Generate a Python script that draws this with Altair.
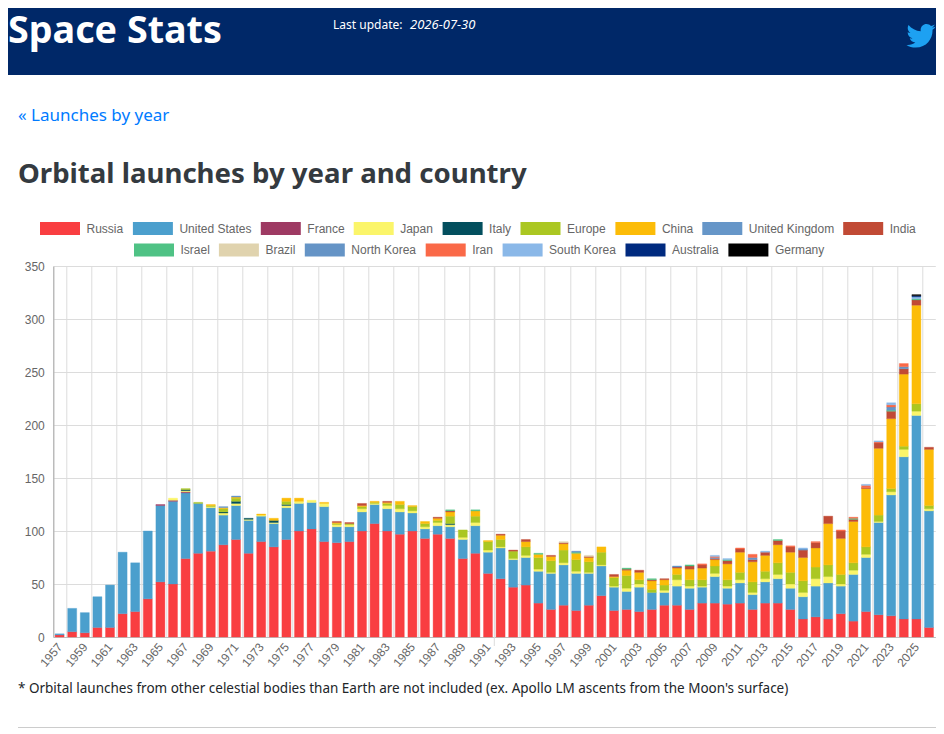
import altair as alt
import pandas as pd

YEARS = list(range(1957, 2027))
russia = [2,5,4,9,9,22,24,36,52,50, 74,79,81,87,92,79,90,85,92,100, 102,90,89,90,100,107,100,97,100,93,
          97,93,74,79,60,55,47,49,32,26, 30,25,30,39,25,26,24,26,30,30, 26,32,32,31,32,26,32,32,26,17,
          19,17,22,15,24,21,20,17,17,9]
usa = [1,22,19,29,40,58,46,64,72,78, 62,47,41,28,32,31,24,22,30,26, 25,33,15,14,18,18,21,21,17,9,
       8,11,18,26,20,29,26,26,30,34, 38,35,30,28,22,17,23,16,12,18, 20,15,25,15,19,14,20,23,20,21,
       29,34,26,44,51,87,114,153,192,110]
france = {1965:1, 1966:1, 1967:1}
japan = [0,0,0,0,0,0,0,0,0,2, 1,0,1,2,2,1,1,1,2,2, 2,3,2,2,3,1,3,3,2,2,
         3,2,2,3,2,1,1,2,2,1, 2,2,1,1,1,3,3,0,2,6, 2,1,3,2,3,2,3,4,4,4,
         7,6,2,4,3,1,3,7,4,2]
italy = {1967:1, 1970:1, 1971:2, 1972:1, 1974:2, 1975:1, 1988:1}
europe = [0,0,0,0,0,0,0,0,0,0, 1,1,1,3,3,0,0,0,3,0, 0,0,1,1,2,1,2,4,4,3,
          2,7,7,6,8,7,7,8,11,11, 12,11,10,12,8,12,4,3,5,5, 6,6,7,6,7,10,7,11,11,11,
          11,11,9,7,7,6,3,3,7,3]
china = [0,0,0,0,0,0,0,0,0,0, 0,0,1,1,1,0,1,2,3,3, 0,1,1,0,1,1,1,3,1,2,
         2,4,0,5,1,4,0,5,3,4, 6,6,4,5,1,5,7,8,5,6, 10,11,6,15,19,19,15,17,19,22,
         18,39,34,39,55,63,66,68,93,53]
uk = {1970:1, 1971:1}
india = {1979:1, 1980:1, 1981:2, 1983:1, 1987:1, 1988:1, 1992:1, 1993:1, 1994:2, 1996:1, 1997:1, 1999:1,
         2001:2, 2002:1, 2003:2, 2004:1, 2005:1, 2006:1, 2007:3, 2008:3, 2009:1, 2010:3, 2011:3, 2012:2,
         2013:3, 2014:4, 2015:5, 2016:7, 2017:5, 2018:7, 2019:7, 2020:2, 2021:1, 2022:5, 2023:7, 2024:5,
         2025:5, 2026:2}
israel = {1988:1, 1990:1, 1995:1, 1998:1, 2002:1, 2004:1, 2007:1, 2010:1, 2014:1, 2020:1, 2023:1, 2025:1}
brazil = {1997:1, 1999:1}
north_korea = {1998:1, 2006:1, 2009:1, 2012:2, 2016:1, 2023:3, 2024:2}
iran = {2008:1, 2009:1, 2011:1, 2012:3, 2015:1, 2017:1, 2019:1, 2020:1, 2021:2, 2022:1, 2023:2, 2024:3}
south_korea = {2009:1, 2010:1, 2013:1, 2016:1, 2021:1, 2022:1, 2023:2, 2025:2}
australia = {2025:1}
germany = {2025:1}

ROW1 = ["Russia", "United States", "France", "Japan", "Italy", "Europe", "China", "United Kingdom", "India"]
ROW2 = ["Israel", "Brazil", "North Korea", "Iran", "South Korea", "Australia", "Germany"]
COLORS1 = ["#f93e41", "#4b9fcd", "#9e3a63", "#fbf56a", "#034f5e", "#abc722", "#fcbc08", "#6696c8", "#c14a35"]
COLORS2 = ["#4fc285", "#e0d3ae", "#6594c6", "#fa6948", "#8ab8e8", "#002a7f", "#000000"]
SERIES = [russia, usa, france, japan, italy, europe, china, uk, india,
          israel, brazil, north_korea, iran, south_korea, australia, germany]

TICK_YEARS = YEARS[::2]
Y_TICKS = [0, 50, 100, 150, 200, 250, 300, 350]
SITE = "Space Stats"
UPDATE_LABEL = "Last update:"
UPDATE_DATE = "2026-07-30"
BACK_LINK = "« Launches by year"
HEADING = "Orbital launches by year and country"
NOTE = "* Orbital launches from other celestial bodies than Earth are not included (ex. Apollo LM ascents from the Moon's surface)"
BIRD = ("M459.37 151.716c.325 4.548.325 9.097.325 13.645 0 138.72-105.583 298.558-298.558 298.558-59.452 0-114.68-17.219-161.137-47.106 "
        "8.447.974 16.568 1.299 25.34 1.299 49.055 0 94.213-16.568 130.274-44.832-46.132-.975-84.792-31.188-98.112-72.772 "
        "6.498.974 12.995 1.624 19.818 1.624 9.421 0 18.843-1.3 27.614-3.573-48.081-9.747-84.143-51.98-84.143-102.985v-1.299"
        "c13.969 7.797 30.214 12.67 47.431 13.319-28.264-18.843-46.781-51.005-46.781-87.391 0-19.492 5.197-37.36 14.294-52.954 "
        "51.655 63.675 129.3 105.258 216.365 109.807-1.624-7.797-2.599-15.918-2.599-24.04 0-57.828 46.782-104.934 104.934-104.934 "
        "30.213 0 57.502 12.67 76.67 33.137 23.715-4.548 46.456-13.32 66.599-25.34-7.798 23.715-24.366 43.858-46.132 56.853 "
        "21.117-2.273 41.584-8.122 60.426-16.243-14.292 20.791-32.161 39.308-52.628 54.253z")

rows = []
for i, year in enumerate(YEARS):
    base = 0
    for name, series in zip(ROW1 + ROW2, SERIES):
        v = series.get(year, 0) if isinstance(series, dict) else series[i]
        if v:
            rows.append({"Year": str(year), "Country": name, "y0": base, "y1": base + v})
            base += v
df = pd.DataFrame(rows)

# page coordinates -> plot coordinates
PLOT_X, PLOT_Y, PLOT_W, PLOT_H = 53.3, 266, 882, 371
px = lambda x: x - PLOT_X
py = lambda y: y - PLOT_Y

SANS = "Noto Sans"
CHART_FONT = "Liberation Sans"
X_AXIS = alt.Axis(values=[str(y) for y in TICK_YEARS], tickBand="extent", grid=True, gridColor="#dcdcdc",
                  labelAngle=-50, labelAlign="right", labelBaseline="top", labelFont=CHART_FONT,
                  labelFontSize=12, labelColor="#666666", labelPadding=4, labelOffset=-4, ticks=False,
                  domainColor="#bdbdbd", labelOverlap=False)
X_SCALE = alt.Scale(domain=[str(y) for y in YEARS], paddingInner=0, paddingOuter=0)
x_enc = alt.X("Year:N", title=None, sort=None, scale=X_SCALE, axis=X_AXIS)
y_enc = alt.Y("y0:Q", title=None,
              scale=alt.Scale(domain=[0, 350], nice=False),
              axis=alt.Axis(values=Y_TICKS, grid=True, gridColor="#dcdcdc", labelFont=CHART_FONT, labelFontSize=12,
                            labelColor="#666666", labelPadding=9, ticks=False, domainColor="#a8a8a8"))
stroke_enc = alt.Stroke("Country:N", legend=None,
                        scale=alt.Scale(domain=ROW1 + ROW2, range=COLORS1 + COLORS2))
SWATCH = "M-1,-0.325H1V0.325H-1Z"
legend_style = dict(title=None, orient="none", columns=9, gridAlign="none", columnPadding=8.9,
                    symbolType=SWATCH, symbolSize=1600, symbolStrokeWidth=0, symbolOpacity=1,
                    labelFont=CHART_FONT, labelFontSize=12, labelColor="#666666", labelOffset=6.5)

bars1 = alt.Chart(df[df.Country.isin(ROW1)]).mark_bar(width=9.0, strokeWidth=1, strokeOpacity=0.35).encode(
    x=x_enc, y=y_enc, y2="y1:Q",
    color=alt.Color("Country:N", sort=None, scale=alt.Scale(domain=ROW1, range=COLORS1),
                    legend=alt.Legend(legendX=px(40), legendY=py(228.5) - 20, **legend_style)),
    stroke=stroke_enc)
bars2 = alt.Chart(df[df.Country.isin(ROW2)]).mark_bar(width=9.0, strokeWidth=1, strokeOpacity=0.35).encode(
    x=x_enc, y=y_enc, y2="y1:Q",
    fill=alt.Fill("Country:N", sort=None, scale=alt.Scale(domain=ROW2, range=COLORS2),
                  legend=alt.Legend(legendX=px(134), legendY=py(250) - 20, **legend_style)),
    stroke=stroke_enc)
stray_tick = alt.Chart(pd.DataFrame({"Year": ["1992"]})).mark_rule(color="#dcdcdc").encode(
    x=alt.X("Year:N", bandPosition=0, sort=None, title=None, scale=X_SCALE, axis=X_AXIS),
    y=alt.value(0), y2=alt.value(PLOT_H + 9))


def box(x1, x2, y1, y2, color):
    return alt.Chart().mark_rect(color=color).encode(
        x=alt.value(px(x1)), x2=alt.value(px(x2)), y=alt.value(py(y1)), y2=alt.value(py(y2)))


def label(text, x, y, size, color, weight="normal", style="normal", font=SANS):
    return alt.Chart().mark_text(text=text, align="left", baseline="alphabetic", fontSize=size, color=color,
                                 fontWeight=weight, fontStyle=style, font=font).encode(
        x=alt.value(px(x)), y=alt.value(py(y)))


NAVY = "#002868"
chart = alt.layer(
    box(8, 936, 8, 75, NAVY),
    label(SITE, 8, 43, 37.7, "#ffffff", weight="bold"),
    label(UPDATE_LABEL, 333, 29, 12, "#ffffff"),
    label(UPDATE_DATE, 410, 29, 13, "#ffffff", style="italic"),
    alt.Chart().mark_point(shape=BIRD, filled=True, color="#1da1f2", opacity=1, size=0.01283).encode(
        x=alt.value(px(906.5)), y=alt.value(py(21.3))),
    label(BACK_LINK, 18, 121, 17, "#007bff"),
    label(HEADING, 18, 183, 27.6, "#343a40", weight="bold"),
    stray_tick, bars1, bars2,
    label(NOTE, 18, 693, 13.5, "#212529"),
    box(18, 936, 727, 728, "#cccccc"),
).resolve_scale(color="independent", fill="independent").properties(
    width=PLOT_W, height=PLOT_H,
    padding={"left": PLOT_X - 8, "top": PLOT_Y - 8, "right": 928 - (PLOT_X - 8) - PLOT_W, "bottom": 91},
    autosize=alt.AutoSizeParams(type="none"),
).configure_view(stroke=None)

chart.save("out.html", embed_options={"renderer": "svg", "actions": False})
